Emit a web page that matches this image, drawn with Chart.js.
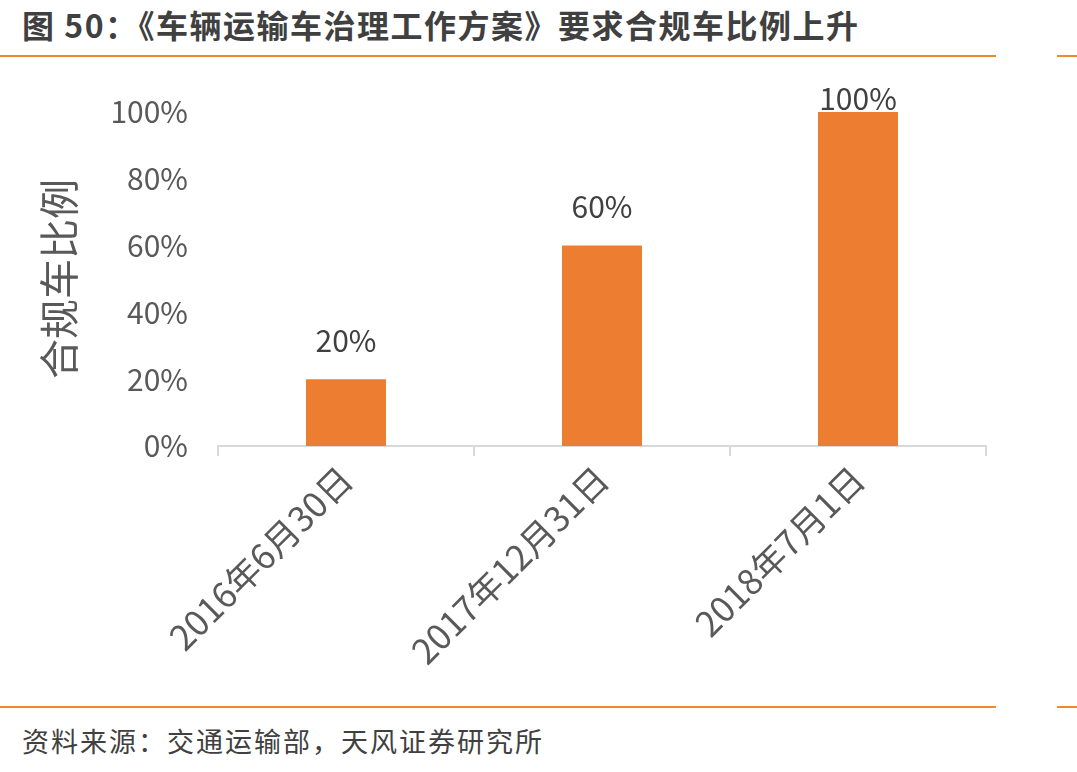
<!DOCTYPE html>
<html>
<head>
<meta charset="utf-8">
<script src="https://cdn.jsdelivr.net/npm/chart.js@4.4.0/dist/chart.umd.min.js"></script>
<style>
    body { margin: 0; background: #fff; width: 1077px; height: 772px; position: relative; overflow: hidden; font-family: 'Noto Sans CJK SC', sans-serif; }
    .title { position: absolute; left: 22px; top: 1px; font-size: 32px; font-weight: bold; color: #404040; letter-spacing: 1.5px; white-space: nowrap; }
    .rule { position: absolute; height: 2px; background: #f0882c; }
    .source { position: absolute; left: 22px; top: 721px; font-size: 27px; color: #404040; letter-spacing: 2px; white-space: nowrap; }
    #wrap { position: absolute; left: 0; top: 60px; width: 1077px; height: 640px; }
</style>
</head>
<body>
<div class="title">图 50：《车辆运输车治理工作方案》要求合规车比例上升</div>
<div class="rule" style="left:0;top:55px;width:996px"></div>
<div class="rule" style="left:1057px;top:55px;width:20px"></div>
<div id="wrap"><canvas id="chart"></canvas></div>
<div class="rule" style="left:0;top:706px;width:996px"></div>
<div class="rule" style="left:1057px;top:706px;width:20px"></div>
<div class="source">资料来源：交通运输部，天风证券研究所</div>
<script>
const categories = ['2016年6月30日', '2017年12月31日', '2018年7月1日'];
const ratios = [20, 60, 100];
const yTicks = [0, 20, 40, 60, 80, 100];

const fontFamily = "'Noto Sans CJK SC', sans-serif";

// value labels above the bars, kept from running off the top
const barLabels = {
    id: 'barLabels',
    afterDatasetsDraw(chart) {
        const ctx = chart.ctx;
        const meta = chart.getDatasetMeta(0);
        ctx.save();
        ctx.font = '30px ' + fontFamily;
        ctx.fillStyle = '#404040';
        ctx.textAlign = 'center';
        ctx.textBaseline = 'bottom';
        meta.data.forEach((bar, i) => {
            const y = Math.max(bar.y - 24, chart.chartArea.top + 2);
            ctx.fillText(ratios[i] + '%', bar.x, y);
        });
        ctx.restore();
    }
};

new Chart(document.getElementById('chart'), {
    type: 'bar',
    data: {
        labels: categories,
        datasets: [{
            data: ratios,
            backgroundColor: '#ed7d31',
            categoryPercentage: 1,
            barPercentage: 0.3125
        }]
    },
    options: {
        responsive: true,
        maintainAspectRatio: false,
        animation: false,
        layout: { padding: { left: 35, right: 91, top: 52, bottom: 0 } },
        plugins: {
            legend: { display: false },
            tooltip: { enabled: false }
        },
        scales: {
            x: {
                afterFit: s => { s.height = 254; },
                grid: { drawOnChartArea: false, drawTicks: true, tickLength: 10, color: '#d9d9d9', lineWidth: 2 },
                border: { color: '#d9d9d9', width: 2 },
                ticks: {
                    color: '#595959',
                    font: { family: fontFamily, size: 35 },
                    minRotation: 45,
                    maxRotation: 45,
                    padding: 2
                }
            },
            y: {
                min: 0,
                max: 100,
                afterFit: s => { s.width = 183; },
                afterBuildTicks: s => { s.ticks = yTicks.map(v => ({ value: v })); },
                grid: { display: false },
                border: { display: false },
                ticks: {
                    color: '#595959',
                    font: { family: fontFamily, size: 30 },
                    padding: 22,
                    callback: v => v + '%'
                },
                title: {
                    display: true,
                    text: '合规车比例',
                    color: '#595959',
                    font: { family: fontFamily, size: 40 },
                    padding: 0
                }
            }
        }
    },
    plugins: [barLabels]
});
</script>
</body>
</html>
